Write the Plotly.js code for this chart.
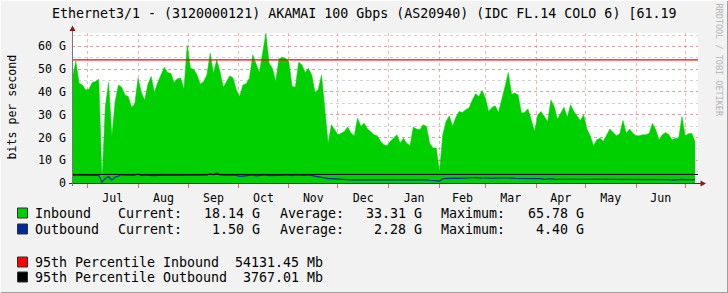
<!DOCTYPE html>
<html>
<head>
<meta charset="utf-8">
<script src="https://cdn.plot.ly/plotly-3.0.1.min.js"></script>
<style>
  html, body { margin: 0; padding: 0; background: #f2f2f2; }
  #chart { width: 728px; height: 293px; }
</style>
</head>
<body>
<div id="chart"></div>
<script>
// ---- data (Gbps), one sample every 2 days starting 2022-06-22 ----
const firstSample = '2022-06-22';
const sampleStepDays = 2;

const inboundG = [
  46.8, 53.5, 43.9, 43.1, 40.9, 41.2, 44.2, 44.6, 45.6, 1.0,
  33.6, 44.2, 20.5, 35.8, 43.1, 42.1, 38.7, 38.0, 33.3, 34.8,
  46.1, 39.8, 36.3, 43.4, 46.8, 39.9, 44.2, 47.5, 50.9, 48.5,
  48.2, 44.2, 45.8, 46.1, 41.2, 60.5, 50.4, 50.0, 47.5, 43.4,
  44.6, 47.5, 57.0, 48.2, 54.1, 49.0, 42.1, 44.6, 47.1, 46.1,
  40.9, 38.0, 43.1, 43.6, 46.1, 56.3, 52.6, 48.5, 57.0, 65.78,
  52.6, 50.4, 44.6, 54.5, 55.3, 54.7, 53.4, 42.5, 42.1, 53.1,
  51.9, 48.5, 50.4, 47.5, 39.8, 41.2, 47.5, 33.9, 17.5, 25.6,
  23.4, 21.2, 21.9, 22.7, 24.6, 21.9, 20.8, 28.5, 24.9, 26.3,
  23.8, 22.7, 21.2, 20.8, 18.3, 16.8, 16.4, 18.3, 19.7, 21.2,
  17.5, 19.7, 17.5, 16.4, 24.6, 23.7, 23.4, 25.6, 24.9, 17.5,
  15.4, 15.4, 5.1, 21.2, 27.0, 29.5, 24.9, 28.9, 31.4, 31.0,
  32.2, 32.9, 36.3, 39.2, 38.0, 40.6, 37.3, 31.4, 33.2, 33.9,
  31.0, 36.3, 42.4, 48.5, 39.0, 39.5, 38.7, 30.7, 31.0, 32.6,
  27.8, 22.7, 30.0, 31.4, 29.2, 27.0, 36.5, 33.6, 28.1, 30.7,
  33.3, 28.9, 34.4, 31.4, 29.5, 27.5, 30.0, 23.7, 20.8, 16.4,
  19.0, 19.7, 18.3, 21.2, 23.7, 22.2, 20.8, 21.6, 27.5, 21.9,
  23.7, 21.9, 20.8, 20.8, 21.2, 21.2, 21.9, 26.3, 23.4, 19.0,
  21.2, 22.2, 21.2, 19.0, 19.7, 19.7, 29.2, 20.8, 21.6, 21.9,
  18.14
];

const outboundG = [
  3.4, 3.4, 3.4, 3.4, 3.4, 3.4, 3.4, 3.4, 3.3, 0.4,
  2.0, 2.8, 1.2, 2.5, 3.0, 3.6, 3.4, 3.5, 3.3, 3.4,
  3.9, 3.2, 3.5, 3.3, 3.4, 3.2, 3.3, 3.3, 3.2, 3.1,
  3.2, 3.3, 3.2, 3.2, 3.2, 3.3, 3.3, 3.1, 3.2, 3.3,
  3.3, 3.4, 4.1, 3.6, 4.4, 3.5, 3.4, 3.3, 3.4, 3.5,
  3.1, 3.0, 3.0, 3.2, 3.3, 3.6, 3.1, 3.3, 3.5, 3.6,
  3.2, 3.3, 3.2, 3.6, 3.5, 3.5, 3.4, 3.2, 3.6, 3.4,
  3.5, 3.3, 3.6, 3.3, 3.0, 2.6, 2.5, 2.3, 1.9, 1.9,
  1.8, 1.5, 1.4, 1.4, 1.3, 1.4, 1.4, 1.4, 1.4, 1.3,
  1.4, 1.4, 1.5, 1.6, 1.4, 1.3, 1.3, 1.4, 1.5, 1.3,
  1.3, 1.4, 1.5, 1.3, 1.5, 1.6, 1.5, 1.5, 1.4, 1.2,
  1.1, 0.9, 0.8, 1.9, 2.0, 2.0, 1.9, 2.1, 2.0, 2.0,
  2.2, 2.1, 2.3, 2.4, 2.2, 2.1, 2.3, 2.1, 2.0, 2.1,
  2.1, 2.2, 2.1, 2.4, 2.2, 2.0, 2.0, 2.0, 1.8, 1.9,
  1.9, 1.8, 1.9, 1.9, 1.6, 1.8, 1.9, 1.7, 1.7, 1.5,
  1.6, 1.5, 1.6, 1.6, 1.5, 1.6, 1.4, 1.5, 1.5, 1.5,
  1.6, 1.7, 1.7, 1.6, 1.4, 1.6, 1.6, 1.5, 1.7, 1.4,
  1.6, 1.4, 1.6, 1.6, 1.5, 1.6, 1.6, 1.7, 1.6, 1.4,
  1.5, 1.6, 1.5, 1.3, 1.5, 1.4, 1.6, 1.5, 1.5, 1.4,
  1.50
];

const p95InboundMb = 54131.45;
const p95OutboundMb = 3767.01;

const yTickVals = [0, 10, 20, 30, 40, 50, 60];
const yTickText = ['0', '10 G', '20 G', '30 G', '40 G', '50 G', '60 G'];

const legendRows = [
  { name: 'Inbound',  color: '#00CF00', current: '18.14 G', average: '33.31 G', maximum: '65.78 G' },
  { name: 'Outbound', color: '#002A97', current: '1.50 G',  average: '2.28 G',  maximum: '4.40 G' }
];
const pctRows = [
  { name: '95th Percentile Inbound',  color: '#FF0000', value: '54131.45 Mb' },
  { name: '95th Percentile Outbound', color: '#000000', value: '3767.01 Mb' }
];

const titleText = 'Ethernet3/1 - (3120000121) AKAMAI 100 Gbps (AS20940) (IDC FL.14 COLO 6) [61.19';
const watermark = 'RRDTOOL / TOBI OETIKER';

// ---- build ----
const dates = inboundG.map((_, i) => {
  const t = Date.parse(firstSample + 'T00:00:00Z') + i * sampleStepDays * 86400000;
  return new Date(t).toISOString().slice(0, 10);
});

// pixel -> paper helpers for decorations
const L = 72, R = 698, T = 33, B = 183;
const px = x => (x - L) / (R - L);
const py = y => (B - y) / (B - T);

const mono = 'DejaVu Sans Mono, Liberation Mono, monospace';

const traces = [
  {
    x: dates, y: inboundG, type: 'scatter', mode: 'lines',
    fill: 'tozeroy', fillcolor: '#00CF00',
    line: { color: '#00CF00', width: 0.5 }, hoverinfo: 'skip'
  },
  {
    x: dates, y: outboundG, type: 'scatter', mode: 'lines',
    line: { color: '#002A97', width: 1.2 }, hoverinfo: 'skip'
  }
];

const shapes = [
  // 95th percentile rules
  { type: 'line', xref: 'paper', x0: 0, x1: 1, yref: 'y', y0: p95InboundMb / 1000, y1: p95InboundMb / 1000,
    line: { color: '#FF0000', width: 1.2 }, layer: 'above' },
  { type: 'line', xref: 'paper', x0: 0, x1: 1, yref: 'y', y0: p95OutboundMb / 1000, y1: p95OutboundMb / 1000,
    line: { color: '#000000', width: 1 }, layer: 'above' },
  // axes
  { type: 'line', xref: 'paper', yref: 'paper', x0: px(69), x1: px(701), y0: py(183.5), y1: py(183.5),
    line: { color: '#333333', width: 1 }, layer: 'above' },
  { type: 'line', xref: 'paper', yref: 'paper', x0: px(72.5), x1: px(72.5), y0: py(186), y1: py(29),
    line: { color: '#777777', width: 1 }, layer: 'above' },
  // arrows
  { type: 'path', xref: 'paper', yref: 'paper',
    path: `M ${px(72.5)} ${py(25.5)} L ${px(69.5)} ${py(31)} L ${px(75.5)} ${py(31)} Z`,
    fillcolor: '#8b1a1a', line: { width: 0 }, layer: 'above' },
  { type: 'path', xref: 'paper', yref: 'paper',
    path: `M ${px(706)} ${py(183.5)} L ${px(700.5)} ${py(180.5)} L ${px(700.5)} ${py(186.5)} Z`,
    fillcolor: '#8b1a1a', line: { width: 0 }, layer: 'above' },
  // image frame shade
  { type: 'line', xref: 'paper', yref: 'paper', x0: px(0), x1: px(728), y0: py(292.5), y1: py(292.5),
    line: { color: '#9e9e9e', width: 1 } },
  { type: 'line', xref: 'paper', yref: 'paper', x0: px(727.5), x1: px(727.5), y0: py(0), y1: py(293),
    line: { color: '#9e9e9e', width: 1 } },
  { type: 'line', xref: 'paper', yref: 'paper', x0: px(0), x1: px(728), y0: py(0.5), y1: py(0.5),
    line: { color: '#fcfcfc', width: 1 } },
  { type: 'line', xref: 'paper', yref: 'paper', x0: px(0.5), x1: px(0.5), y0: py(0), y1: py(293),
    line: { color: '#fcfcfc', width: 1 } }
];

const annotations = [
  { text: titleText, xref: 'paper', yref: 'paper', x: px(364), y: py(14),
    xanchor: 'center', yanchor: 'middle', showarrow: false,
    font: { family: mono, size: 13.3, color: '#000' } },
  { text: watermark, xref: 'paper', yref: 'paper', x: px(718.5), y: py(60),
    xanchor: 'center', yanchor: 'middle', showarrow: false, textangle: 90,
    font: { family: mono, size: 8.5, color: '#b4b4b4' } },
  { text: 'bits per second', xref: 'paper', yref: 'paper', x: px(11.5), y: py(107),
    xanchor: 'center', yanchor: 'middle', showarrow: false, textangle: -90,
    font: { family: mono, size: 11.6, color: '#000' } }
];

const legFont = { family: mono, size: 13.3, color: '#000' };
const rowY = [213, 229];
legendRows.forEach((r, i) => {
  const y = rowY[i];
  shapes.push({ type: 'rect', xref: 'paper', yref: 'paper', x0: px(17.5), x1: px(27.5),
    y0: py(y - 5), y1: py(y + 5), fillcolor: r.color, line: { color: '#303030', width: 1 } });
  const items = [
    [r.name, 34, 'left'], ['Current:', 116.5, 'left'], [r.current, 260.5, 'right'],
    ['Average:', 278.5, 'left'], [r.average, 423, 'right'],
    ['Maximum:', 440, 'left'], [r.maximum, 584.5, 'right']
  ];
  items.forEach(([t, x, a]) => annotations.push({
    text: t, xref: 'paper', yref: 'paper', x: px(x), y: py(y), xanchor: a, yanchor: 'middle',
    showarrow: false, font: legFont, borderpad: 0
  }));
});
const pctY = [262, 277];
pctRows.forEach((r, i) => {
  const y = pctY[i];
  shapes.push({ type: 'rect', xref: 'paper', yref: 'paper', x0: px(17.5), x1: px(27.5),
    y0: py(y - 5), y1: py(y + 5), fillcolor: r.color, line: { color: '#303030', width: 1 } });
  annotations.push({ text: r.name, xref: 'paper', yref: 'paper', x: px(34), y: py(y),
    xanchor: 'left', yanchor: 'middle', showarrow: false, font: legFont, borderpad: 0 });
  annotations.push({ text: r.value, xref: 'paper', yref: 'paper', x: px(323.5), y: py(y),
    xanchor: 'right', yanchor: 'middle', showarrow: false, font: legFont, borderpad: 0 });
});

const layout = {
  width: 728, height: 293,
  margin: { l: L, r: 728 - R, t: T, b: 293 - B, pad: 0 },
  paper_bgcolor: '#f2f2f2', plot_bgcolor: '#ffffff',
  showlegend: false,
  xaxis: {
    type: 'date',
    range: ['2022-06-21 16:00', '2023-07-08 19:00'],
    tick0: '2022-07-01', dtick: 'M1',
    ticklabelmode: 'period', tickformat: '%b',
    showgrid: true, gridcolor: 'rgba(225,120,120,0.55)', griddash: 'dot', gridwidth: 1,
    ticks: 'outside', ticklen: 4, tickcolor: '#e07070', tickwidth: 1,
    showline: false, zeroline: false,
    tickfont: { family: mono, size: 11.6, color: '#000' }
  },
  yaxis: {
    range: [0, 65.9],
    tickmode: 'array', tickvals: yTickVals, ticktext: yTickText,
    showgrid: true, gridcolor: 'rgba(225,120,120,0.55)', griddash: 'dot', gridwidth: 1,
    minor: { tickmode: 'linear', tick0: 0, dtick: 5, showgrid: true,
             gridcolor: 'rgba(190,190,190,0.7)', griddash: 'dot', gridwidth: 1, ticks: '' },
    ticks: '', showline: false, zeroline: false,
    ticklabelstandoff: 5,
    tickfont: { family: mono, size: 11.6, color: '#000' }
  },
  shapes: shapes,
  annotations: annotations
};

Plotly.newPlot('chart', traces, layout, { staticPlot: true, displayModeBar: false });
</script>
</body>
</html>
